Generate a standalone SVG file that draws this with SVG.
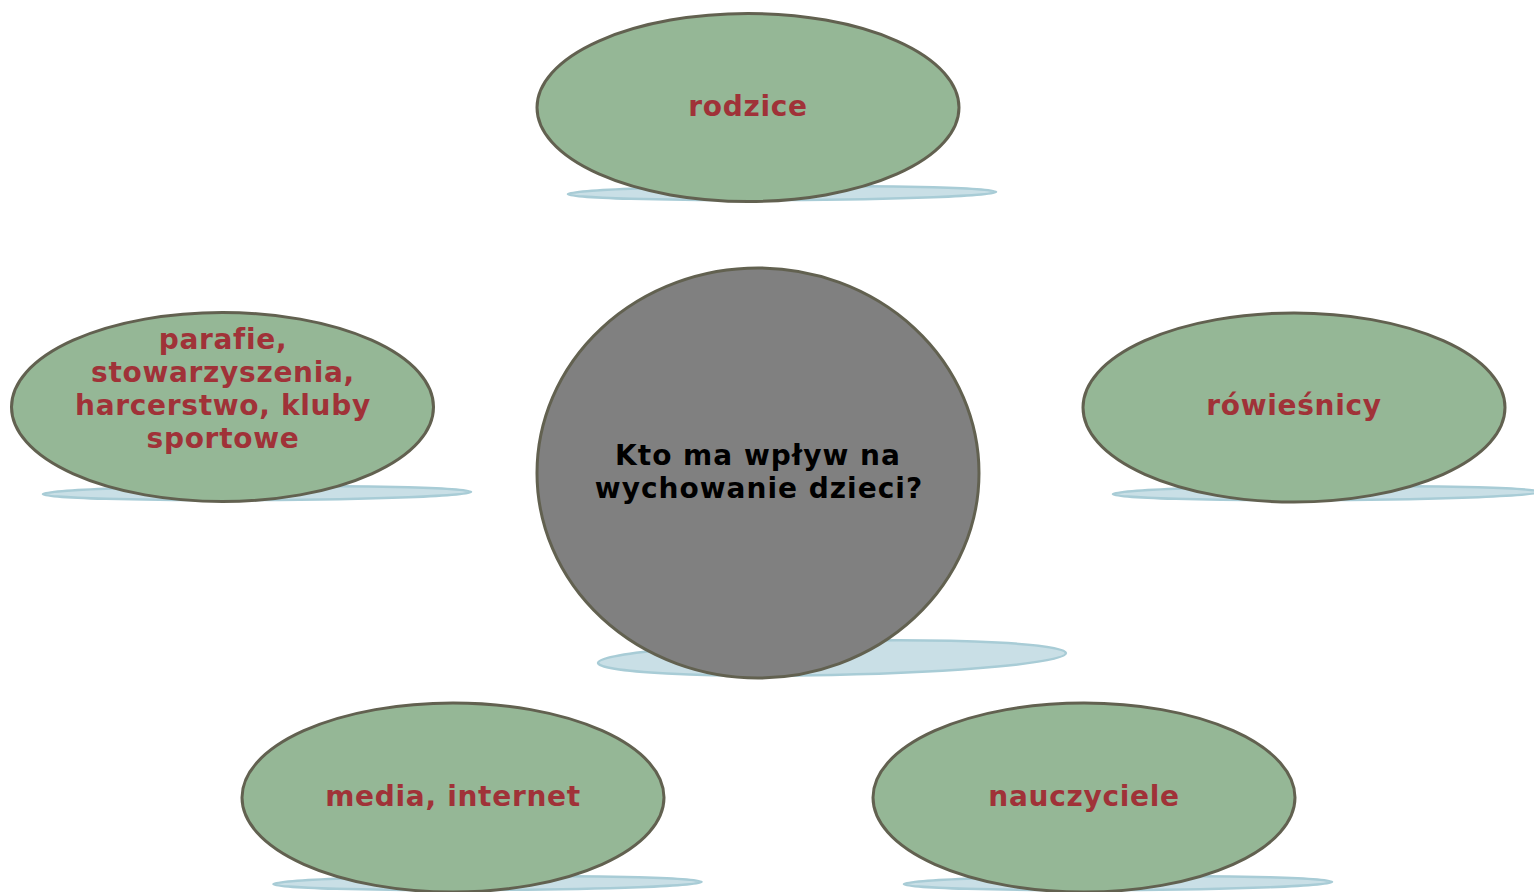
<svg xmlns="http://www.w3.org/2000/svg" width="1534" height="892" viewBox="0 0 1534 892">
<style>
.shadow{fill:#C9DFE6;stroke:#A8CCD6;stroke-width:2.5}
.node{fill:#95B796;stroke:#626150;stroke-width:3}
.hub{fill:#808080;stroke:#626150;stroke-width:3}
.lbl{font-family:"DejaVu Sans","Verdana",sans-serif;font-weight:bold;font-size:28px;letter-spacing:0.7px;fill:#A03238;text-anchor:middle}
.hubtxt{font-family:"DejaVu Sans","Verdana",sans-serif;font-weight:bold;font-size:28px;letter-spacing:1px;fill:#000000;text-anchor:middle}
</style>
<rect width="1534" height="892" fill="#FFFFFF"/>
<g id="connectors"></g>
<g id="hub">
<ellipse class="shadow" cx="832" cy="658" rx="234" ry="17" transform="rotate(-1.2 832 658)"/>
<ellipse class="hub" cx="758" cy="473" rx="221" ry="205"/>
<text class="hubtxt" x="758" y="465">Kto ma wpływ na</text>
<text class="hubtxt" x="759" y="498">wychowanie dzieci?</text>
</g>
<g id="rodzice">
<ellipse class="shadow" cx="782" cy="193" rx="214" ry="7" transform="rotate(-0.3 782 193)"/>
<ellipse class="node" cx="748" cy="107.5" rx="211" ry="94"/>
<text class="lbl" x="748" y="116">rodzice</text>
</g>
<g id="parafie">
<ellipse class="shadow" cx="257" cy="493" rx="214" ry="7" transform="rotate(-0.3 257 493)"/>
<ellipse class="node" cx="222.5" cy="407" rx="211" ry="94.5"/>
<text class="lbl" x="223" y="349">parafie,</text>
<text class="lbl" x="223" y="382">stowarzyszenia,</text>
<text class="lbl" x="223" y="415">harcerstwo, kluby</text>
<text class="lbl" x="223" y="448">sportowe</text>
</g>
<g id="rowiesnicy">
<ellipse class="shadow" cx="1327" cy="493" rx="214" ry="7" transform="rotate(-0.3 1327 493)"/>
<ellipse class="node" cx="1294" cy="407.5" rx="211" ry="94.5"/>
<text class="lbl" x="1294" y="415">rówieśnicy</text>
</g>
<g id="media">
<ellipse class="shadow" cx="487.5" cy="883" rx="214" ry="7" transform="rotate(-0.3 487.5 883)"/>
<ellipse class="node" cx="453" cy="797.5" rx="211" ry="94.5"/>
<text class="lbl" x="453" y="806">media, internet</text>
</g>
<g id="nauczyciele">
<ellipse class="shadow" cx="1118" cy="883" rx="214" ry="7" transform="rotate(-0.3 1118 883)"/>
<ellipse class="node" cx="1084" cy="797.5" rx="211" ry="94.5"/>
<text class="lbl" x="1084" y="806">nauczyciele</text>
</g>
</svg>
